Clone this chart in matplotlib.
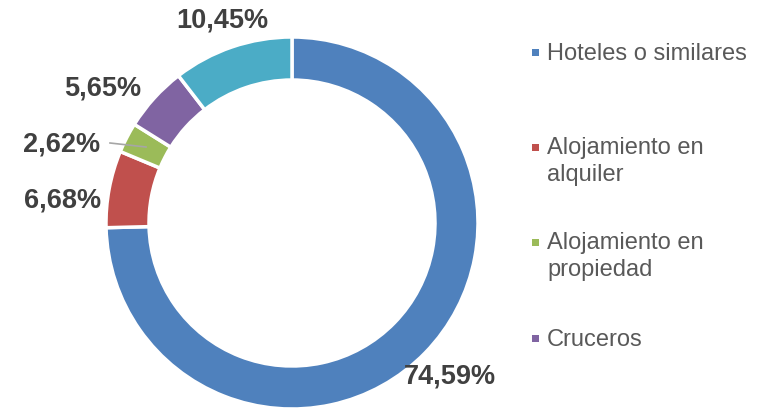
import matplotlib.pyplot as plt
from matplotlib.patches import Rectangle

plt.rcParams['font.family'] = ['Liberation Sans', 'DejaVu Sans']

# Data
categories = ['Hoteles o similares', 'Alojamiento en\nalquiler',
              'Alojamiento en\npropiedad', 'Cruceros', 'Otros']
shares = [74.59, 6.68, 2.62, 5.65, 10.45]
labels = ['74,59%', '6,68%', '2,62%', '5,65%', '10,45%']
colors = ['#4F81BD', '#C0504D', '#9BBB59', '#8064A2', '#4BACC6']

W, H = 763, 409
fig = plt.figure(figsize=(W / 100, H / 100), dpi=100)
ax = fig.add_axes([0, 0, 1, 1])

# donut, working in pixel units (y up)
cx, cy, R = 292, H - 223, 186
wedges, _ = ax.pie(shares, colors=colors, startangle=90, counterclock=False,
                   center=(cx, cy), radius=R,
                   wedgeprops=dict(width=43, edgecolor='white', linewidth=2.5))
ax.set_xlim(0, W)
ax.set_ylim(0, H)
ax.set_aspect('equal')
ax.axis('off')

# data labels (positions as Excel placed them)
label_pos = [(450, 377), (63, 200), (62, 144), (103, 88), (222, 20)]
for txt, (x, y) in zip(labels, label_pos):
    ax.text(x, H - y, txt, ha='center', va='center', fontsize=19.5,
            fontweight='bold', color='#404040')
ax.plot([110, 146], [H - 143, H - 147], color='#A6A6A6', lw=1.2)

# legend (first four series only, as shown)
leg_y = [52, 147, 242, 338]
for col, name, y in zip(colors[:4], categories[:4], leg_y):
    ax.add_patch(Rectangle((532, H - y - 3.5), 7, 7, facecolor=col,
                           edgecolor='none'))
    ax.text(547, H - y, name, ha='left', va='center_baseline', fontsize=17,
            color='#595959', linespacing=1.3) if '\n' not in name else \
        ax.text(547, H - y + 10, name, ha='left', va='top', fontsize=17,
                color='#595959', linespacing=1.3)

fig.savefig('out.png', dpi=100)
